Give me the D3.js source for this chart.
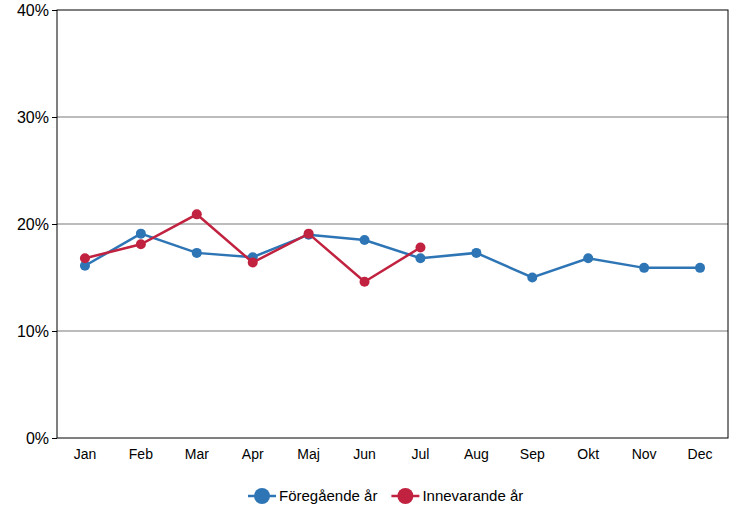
<!DOCTYPE html>
<html><head><meta charset="UTF-8">
<script src="https://d3js.org/d3.v7.min.js"></script>
<style>body{margin:0;background:#fff;font-family:"Liberation Sans",Arial,sans-serif}</style>
</head><body><svg width="740" height="517"></svg>
<script>
const months = ['Jan','Feb','Mar','Apr','Maj','Jun','Jul','Aug','Sep','Okt','Nov','Dec'];
const previous = [16.1,19.1,17.3,16.9,19.0,18.5,16.8,17.3,15.0,16.8,15.9,15.9];
const current = [16.8,18.1,20.9,16.4,19.1,14.6,17.8];
const yTicks = [0,10,20,30,40];
const series = [
  {name:'Föregående år', values: previous, color:'#2e75b6'},
  {name:'Innevarande år', values: current, color:'#c0223f'}
];

const svg = d3.select('svg');
const plotLeft = 57, plotRight = 728, plotTop = 10, plotBottom = 438;
const x = d3.scaleBand().domain(months).range([plotLeft, plotRight]);
const y = d3.scaleLinear().domain([0, 40]).range([plotBottom, plotTop]);

svg.append('g').selectAll('line').data(yTicks.slice(1,-1)).join('line')
  .attr('x1', plotLeft).attr('x2', plotRight).attr('y1', d => y(d)).attr('y2', d => y(d))
  .attr('stroke', '#a6a6a6').attr('stroke-width', 1.5);

svg.append('rect').attr('x', plotLeft).attr('y', plotTop).attr('width', plotRight-plotLeft).attr('height', plotBottom-plotTop)
  .attr('fill', 'none').attr('stroke', '#000').attr('stroke-width', 1);

const ya = svg.append('g').attr('transform', `translate(${plotLeft},0)`)
  .call(d3.axisLeft(y).tickValues(yTicks).tickFormat(d => d + '%').tickSize(5));
ya.select('.domain').remove();
ya.selectAll('text').attr('font-size', 16).attr('fill', '#000').attr('font-family', 'Liberation Sans, Arial');

const xa = svg.append('g').attr('transform', `translate(0,${plotBottom})`)
  .call(d3.axisBottom(x).tickSize(0).tickPadding(11));
xa.select('.domain').remove();
xa.selectAll('text').attr('font-size', 14).attr('fill', '#000').attr('font-family', 'Liberation Sans, Arial');

const line = d3.line().x((d, i) => x(months[i]) + x.bandwidth()/2).y(d => y(d));
series.forEach(s => {
  svg.append('path').datum(s.values).attr('d', line)
    .attr('fill', 'none').attr('stroke', s.color).attr('stroke-width', 2.5);
  svg.append('g').selectAll('circle').data(s.values).join('circle')
    .attr('cx', (d, i) => x(months[i]) + x.bandwidth()/2).attr('cy', d => y(d))
    .attr('r', 5).attr('fill', s.color);
});

const lg = svg.append('g').attr('transform', 'translate(248,496)');
let off = 0;
series.forEach(s => {
  const g = lg.append('g').attr('transform', `translate(${off},0)`);
  g.append('line').attr('x1', 0).attr('x2', 28).attr('stroke', s.color).attr('stroke-width', 2.5);
  g.append('circle').attr('cx', 14).attr('r', 8).attr('fill', s.color);
  const t = g.append('text').attr('x', 31).attr('y', 5).attr('font-size', 15).text(s.name);
  off += 31 + t.node().getComputedTextLength() + 14;
});
</script></body></html>
